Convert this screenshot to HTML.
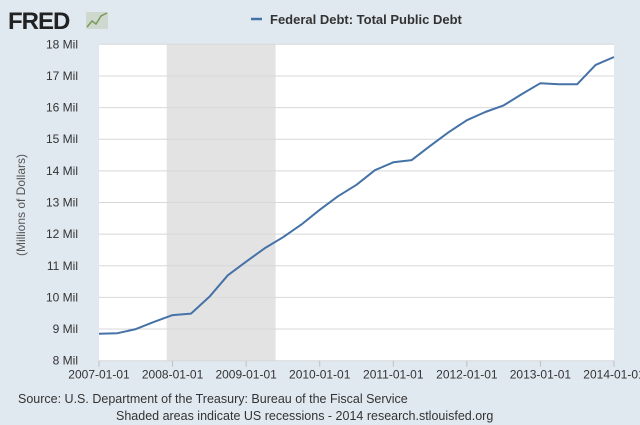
<!DOCTYPE html>
<html><head><meta charset="utf-8"><style>
body{margin:0;background:#e1e9f0;font-family:"Liberation Sans",sans-serif;}
svg{display:block}
</style></head><body>
<svg width="640" height="425">
<rect x="0" y="0" width="640" height="425" fill="#e1e9f0"/>
<text x="8" y="29" font-size="24" font-weight="bold" fill="#222" letter-spacing="-1">FRED</text>
<g><rect x="86" y="12" width="22" height="17" fill="#cfd8cf"/><polyline points="87,27 92,21 96,24 101,16 107,13" fill="none" stroke="#7a9a5a" stroke-width="1.5"/></g>
<line x1="251" y1="19" x2="262" y2="19" stroke="#4572a7" stroke-width="2.5"/>
<text x="270" y="24" font-size="13" font-weight="bold" fill="#333">Federal Debt: Total Public Debt</text>
<g id="plot"></g>
<text transform="translate(25,205) rotate(-90)" text-anchor="middle" font-size="12" fill="#555">(Millions of Dollars)</text>
<text x="18" y="403" font-size="12.5" fill="#333">Source: U.S. Department of the Treasury: Bureau of the Fiscal Service</text>
<text x="116" y="420" font-size="12.5" fill="#333">Shaded areas indicate US recessions - 2014 research.stlouisfed.org</text>
</svg>
<script>
const yTicks=[8,9,10,11,12,13,14,15,16,17,18];
const xTickLabels=["2007-01-01","2008-01-01","2009-01-01","2010-01-01","2011-01-01","2012-01-01","2013-01-01","2014-01-01"];
const recessionStart=2007.92, recessionEnd=2009.4;
const startYear=2007;
const debt=[8.85,8.87,9.0,9.23,9.44,9.49,10.02,10.7,11.13,11.55,11.9,12.3,12.77,13.2,13.56,14.02,14.27,14.34,14.79,15.22,15.6,15.86,16.07,16.43,16.77,16.74,16.74,17.35,17.6];
const L=99,R=614,T=44.3,B=360.7;
const xs=t=>L+(t-2007)/7*(R-L);
const ys=v=>B-(v-8)/10*(B-T);
const NS="http://www.w3.org/2000/svg";
const g=document.getElementById('plot');
function mk(tag,a){const e=document.createElementNS(NS,tag);for(const k in a)e.setAttribute(k,a[k]);g.appendChild(e);return e;}
let e=mk('rect',{x:L,y:T,width:R-L,height:B-T,fill:'#fff'});


e=mk('rect',{x:xs(recessionStart),y:T,width:xs(recessionEnd)-xs(recessionStart),height:B-T,fill:'#e3e3e3'});


yTicks.forEach(v=>{
 const l=mk('line',{x1:L,x2:R,y1:ys(v),y2:ys(v),stroke:'#d8d8d8','stroke-width':1});
 
 
 const t=mk('text',{x:78,y:ys(v)+4,'text-anchor':'end','font-size':12,fill:'#333'});
 t.textContent=v+' Mil';
 
 
});
xTickLabels.forEach((s,i)=>{
 const x=xs(2007+i);
 const l=mk('line',{x1:x,x2:x,y1:B,y2:B+6,stroke:'#c0c0c0'});
 
 
 const t=mk('text',{x:x,y:B+18,'text-anchor':'middle','font-size':12,fill:'#333'});
 t.textContent=s;
 
 
});
const pts=debt.map((v,i)=>xs(startYear+i*0.25).toFixed(1)+','+ys(v).toFixed(1)).join(' ');
e=mk('polyline',{points:pts,fill:'none',stroke:'#4572a7','stroke-width':2,'stroke-linejoin':'round'});


</script>
</body></html>
